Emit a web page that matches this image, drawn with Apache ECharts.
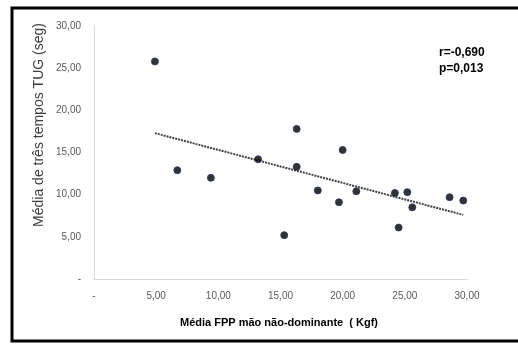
<!DOCTYPE html>
<html>
<head>
<meta charset="utf-8">
<script src="https://cdn.jsdelivr.net/npm/echarts@6/dist/echarts.min.js"></script>
<style>
  html, body { margin: 0; padding: 0; background: #fff; }
  #chart { width: 518px; height: 345px; }
</style>
</head>
<body>
<div id="chart"></div>
<script>
// FPP (Kgf) vs TUG mean time (seg)
const fppX = [4.9, 6.7, 9.4, 13.2, 16.3, 16.3, 15.3, 18.0, 20.0, 19.7, 21.1, 24.2, 24.5, 25.2, 25.6, 28.6, 29.7]
const tugY = [25.8, 12.9, 12.0, 14.2, 17.8, 13.3, 5.2, 10.5, 15.3, 9.1, 10.4, 10.2, 6.1, 10.3, 8.5, 9.7, 9.3]

// dotted trend line ends
const trendX = [4.9, 29.7]
const trendY = [17.3, 7.6]

const annotation = ["r=-0,690", "p=0,013"]
const xTitle = "Média FPP mão não-dominante  ( Kgf)"
const yTitle = "Média de três tempos TUG (seg)"

const fmt = (v) => (v === 0 ? "-" : v.toFixed(2).replace(".", ","))

const chart = echarts.init(document.getElementById("chart"), null, { renderer: "canvas" })

chart.setOption({
  animation: false,
  grid: { left: 94, right: 51, top: 26, bottom: 66 },
  xAxis: {
    type: "value",
    min: 0,
    max: 30,
    interval: 5,
    axisLine: { show: true, lineStyle: { color: "#d9d9d9", width: 1 } },
    axisTick: { show: false },
    splitLine: { show: false },
    axisLabel: {
      formatter: fmt,
      color: "#595959",
      fontFamily: "Liberation Sans",
      fontSize: 10,
      margin: 12
    }
  },
  yAxis: {
    type: "value",
    min: 0,
    max: 30,
    interval: 5,
    axisLine: { show: true, lineStyle: { color: "#d9d9d9", width: 1 } },
    axisTick: { show: false },
    splitLine: { show: false },
    axisLabel: {
      formatter: fmt,
      color: "#595959",
      fontFamily: "Liberation Sans",
      fontSize: 10,
      margin: 13
    }
  },
  graphic: [
    {
      type: "rect",
      shape: { x: 12, y: 8, width: 520, height: 333 },
      style: { fill: null, stroke: "#000", lineWidth: 3 },
      z: 10
    },
    {
      type: "text",
      x: 39,
      y: 125,
      rotation: Math.PI / 2,
      style: {
        text: yTitle,
        fill: "#404040",
        font: "14px 'Liberation Sans'",
        align: "center",
        verticalAlign: "middle"
      }
    },
    {
      type: "text",
      x: 279,
      y: 323,
      style: {
        text: xTitle,
        fill: "#000",
        font: "bold 11px 'Liberation Sans'",
        align: "center",
        verticalAlign: "middle"
      }
    },
    {
      type: "text",
      x: 439,
      y: 45,
      style: {
        text: annotation.join("\n"),
        fill: "#000",
        font: "bold 12px 'Liberation Sans Narrow', 'Liberation Sans'",
        lineHeight: 16,
        align: "left",
        verticalAlign: "top"
      }
    }
  ],
  series: [
    {
      type: "line",
      data: trendX.map((x, i) => [x, trendY[i]]),
      symbol: "none",
      silent: true,
      lineStyle: { color: "#404040", width: 2, type: [2, 1] },
      z: 1
    },
    {
      type: "scatter",
      data: fppX.map((x, i) => [x, tugY[i]]),
      symbol: "circle",
      symbolSize: 7,
      itemStyle: { color: "#000", borderColor: "#1f3864", borderWidth: 1 },
      z: 2
    }
  ]
})
</script>
</body>
</html>
